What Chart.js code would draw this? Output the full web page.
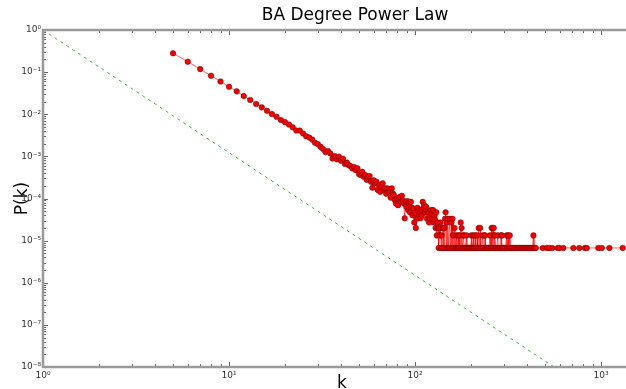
<!DOCTYPE html>
<html><head><meta charset="utf-8">
<script src="https://cdn.jsdelivr.net/npm/chart.js@4/dist/chart.umd.min.js"></script>
<style>html,body{margin:0;padding:0;background:#fff;overflow:hidden}</style>
</head><body>
<canvas id="c" width="710" height="389"></canvas>
<script>
const chartTitle = 'BA Degree Power Law';
const xTitle = 'k';
const yTitle = 'P(k)';

const degreeK = [
  5,6,7,8,9,10,11,12,13,14,15,16,17,18,19,20,21,22,23,24,25,26,27,28,29,30,
  31,32,33,34,35,36,37,38,39,40,41,42,43,44,45,46,47,48,49,50,
  51,52,53,54,55,56,57,58,59,60,61,62,63,64,65,66,67,68,69,70,
  71,72,73,74,75,76,77,78,79,80,81,82,83,84,85,86,87,88,89,90,
  91,92,93,94,95,96,97,98,99,100,101,102,103,104,105,106,107,108,109,110,
  111,112,113,114,115,116,117,118,119,120,121,122,123,124,125,126,127,128,129,130,
  131,132,133,134,135,136,137,138,139,140,141,142,143,144,145,146,147,148,149,150,
  151,152,154,155,157,158,159,160,161,163,164,165,167,168,170,171,172,173,174,176,
  177,178,180,181,182,183,184,186,187,189,190,192,194,195,197,199,201,202,204,206,
  207,209,211,212,214,216,217,220,221,224,225,228,231,232,235,236,238,239,242,245,
  248,250,253,254,256,258,259,262,263,265,266,268,269,271,275,279,280,284,288,290,
  291,293,294,298,302,306,311,312,317,318,323,324,328,333,338,343,348,353,358,363,
  368,374,380,386,392,398,404,410,416,422,428,433,436,440,446,
  486,511,527,547,585,597,627,710,764,820,838,967,1009,1109,1308
];
const degreeP = [
  0.28,0.177,0.118,0.082,0.060,0.045,0.035,0.027,0.0218,0.0175,0.0146,0.0121,0.0101,0.0087,0.0073,0.0065,0.0057,0.0049,0.0041,0.0041,0.0035,0.0030,0.0028,0.0025,0.0021,0.00196,
  0.0017,0.0015,0.00127,0.00134,0.00118,0.00089,0.00102,0.00085,0.00098,0.00079,0.00088,0.00066,0.00071,0.00062,0.00059,0.00052,0.00056,0.00047,0.00052,0.00038,
  0.00036,0.00043,0.00033,0.00036,0.00028,0.0003,0.00034,0.00025,0.00018,0.00027,0.00023,0.00025,0.00016,0.00021,0.000144,0.00019,0.00023,0.00016,0.000174,0.00013,
  0.000174,0.000144,0.000158,0.000105,0.000174,0.000132,0.00012,0.000091,0.000076,0.0001,0.000069,0.000095,0.00011,0.000083,0.000116,0.00009,0.000076,0.000034,0.00008,0.000063,
  0.000087,0.000053,0.000076,0.000047,0.000083,0.00006,0.00004,0.000058,0.000027,0.000045,0.00002,0.000033,0.00006,0.000053,0.00004,0.000047,0.000034,0.000053,0.00004,0.000083,
  0.00006,0.000069,0.000047,0.000053,0.000063,0.000033,0.000047,0.000045,0.000027,0.000034,0.00004,0.000053,0.000045,0.000033,0.000053,0.000027,0.00004,0.000031,0.00002,0.000047,
  0.0000133,0.000027,0.00002,0.0000067,0.00002,0.0000133,0.000027,0.0000067,0.0000133,0.0000067,0.00002,0.00002,0.0000067,0.00002,0.000033,0.000047,0.0000067,0.000027,0.0000067,0.000033,
  0.0000067,0.0000067,0.000033,0.0000067,0.000027,0.0000067,0.000033,0.0000133,0.0000067,0.00002,0.0000067,0.0000067,0.0000133,0.0000067,0.0000067,0.0000133,0.0000067,0.0000133,0.0000067,0.000027,
  0.0000067,0.00002,0.0000067,0.0000067,0.0000133,0.0000133,0.0000067,0.0000067,0.0000067,0.0000133,0.0000067,0.0000067,0.0000067,0.0000067,0.0000067,0.0000067,0.0000133,0.0000067,0.0000067,0.0000133,
  0.0000067,0.0000067,0.0000133,0.0000067,0.0000067,0.0000133,0.0000067,0.00002,0.0000067,0.00002,0.0000067,0.0000067,0.0000133,0.0000067,0.0000067,0.0000133,0.0000133,0.0000067,0.0000067,0.0000067,
  0.0000067,0.0000067,0.0000133,0.0000067,0.0000067,0.00002,0.0000067,0.00002,0.0000067,0.00002,0.0000133,0.0000067,0.0000133,0.0000067,0.0000067,0.0000133,0.0000067,0.0000067,0.0000067,0.0000133,
  0.0000067,0.0000133,0.0000067,0.0000067,0.0000067,0.0000067,0.0000133,0.0000067,0.0000133,0.0000067,0.0000133,0.0000067,0.0000067,0.0000067,0.0000067,0.0000067,0.0000067,0.0000067,0.0000067,0.0000067,
  0.0000067,0.0000067,0.0000067,0.0000067,0.0000067,0.0000067,0.0000067,0.0000067,0.0000067,0.0000067,0.0000067,0.0000133,0.0000067,0.0000067,0.0000067,
  0.0000067,0.0000067,0.0000067,0.0000067,0.0000067,0.0000067,0.0000067,0.0000067,0.0000067,0.0000067,0.0000067,0.0000067,0.0000067,0.0000067,0.0000067
];

const fitK = [1, 559];
const fitP = [1, 1e-8];

const xTicks = [1, 10, 100, 1000];
const xTickLabels = ['10\u2070', '10\u00B9', '10\u00B2', '10\u00B3'];
const yTicks = [1, 1e-1, 1e-2, 1e-3, 1e-4, 1e-5, 1e-6, 1e-7, 1e-8];
const yTickLabels = ['10\u2070', '10\u207B\u00B9', '10\u207B\u00B2', '10\u207B\u00B3', '10\u207B\u2074',
                     '10\u207B\u2075', '10\u207B\u2076', '10\u207B\u2077', '10\u207B\u2078'];

const degreeData = degreeK.map((k, i) => ({x: k, y: degreeP[i]}));
const fitData = fitK.map((k, i) => ({x: k, y: fitP[i]}));

function labelFor(ticks, labels, v) {
  for (let i = 0; i < ticks.length; i++) {
    if (Math.abs(Math.log10(v) - Math.log10(ticks[i])) < 1e-6) return labels[i];
  }
  return '';
}

const frame = {
  id: 'frame',
  afterLayout(chart) {
    // centre the title on the whole (wider) figure, like the original
    const t = chart.titleBlock;
    if (t) { t.left = 0; t.right = chart.width; t.width = chart.width; }
  },
  afterDraw(chart) {
    const {ctx, chartArea: a, scales: {x, y}} = chart;
    ctx.save();
    ctx.strokeStyle = '#666';
    ctx.lineWidth = 1;
    ctx.beginPath();
    for (let d = 0; d < xTicks.length; d++) {
      for (let m = 1; m <= 9; m++) {
        const v = xTicks[d] * m;
        if (v > x.max) break;
        const px = Math.round(x.getPixelForValue(v)) + 0.5;
        const len = m === 1 ? 5 : 3;
        ctx.moveTo(px, a.bottom); ctx.lineTo(px, a.bottom - len);
        ctx.moveTo(px, a.top); ctx.lineTo(px, a.top + len);
      }
    }
    for (let d = 0; d < yTicks.length; d++) {
      for (let m = 1; m <= 9; m++) {
        const v = yTicks[d] * m;
        if (v > y.max * 1.0001) break;
        const py = Math.round(y.getPixelForValue(v)) + 0.5;
        const len = m === 1 ? 5 : 3;
        ctx.moveTo(a.left, py); ctx.lineTo(a.left + len, py);
        ctx.moveTo(a.right, py); ctx.lineTo(a.right - len, py);
      }
    }
    ctx.stroke();
    ctx.strokeStyle = '#999';
    ctx.lineWidth = 2.5;
    ctx.strokeRect(a.left, a.top, a.right - a.left, a.bottom - a.top);
    ctx.restore();
  }
};

new Chart(document.getElementById('c'), {
  type: 'scatter',
  data: {
    datasets: [
      {
        data: fitData,
        showLine: true,
        borderColor: 'rgb(70,175,70)',
        borderWidth: 1,
        borderDash: [3, 4],
        pointRadius: 0,
        order: 2
      },
      {
        data: degreeData,
        showLine: true,
        borderColor: 'rgba(255,0,0,0.6)',
        borderWidth: 1,
        pointRadius: 2.8,
        pointBackgroundColor: '#ee0000',
        pointBorderColor: 'rgba(90,0,0,0.75)',
        pointBorderWidth: 0.6,
        order: 1
      }
    ]
  },
  options: {
    responsive: false,
    animation: false,
    devicePixelRatio: 1,
    layout: {padding: {left: 0, right: 69, top: 0, bottom: 0}},
    plugins: {
      legend: {display: false},
      tooltip: {enabled: false},
      title: {
        display: true,
        text: chartTitle,
        color: '#000',
        fullSize: true,
        font: {family: 'DejaVu Sans', size: 17, weight: 'normal'},
        padding: {top: 5, bottom: 4.6}
      }
    },
    scales: {
      x: {
        type: 'logarithmic',
        min: 1, max: 1640,
        grid: {display: false, drawTicks: false},
        border: {display: false},
        afterBuildTicks: s => { s.ticks = xTicks.map(v => ({value: v})); },
        afterFit: s => { s.height = 22; },
        ticks: {
          autoSkip: false, maxRotation: 0, padding: 3,
          color: '#333', font: {family: 'DejaVu Sans', size: 9},
          callback: v => labelFor(xTicks, xTickLabels, v)
        },
        title: {display: true, text: xTitle, color: '#000',
                font: {family: 'DejaVu Sans', size: 17}, padding: {top: 0, bottom: -5}}
      },
      y: {
        type: 'logarithmic',
        min: 1e-8, max: 1,
        grid: {display: false, drawTicks: false},
        border: {display: false},
        afterBuildTicks: s => { s.ticks = yTicks.map(v => ({value: v})); },
        afterFit: s => { s.width = 43; },
        ticks: {
          autoSkip: false, padding: 2,
          color: '#333', font: {family: 'DejaVu Sans', size: 9},
          callback: v => labelFor(yTicks, yTickLabels, v)
        },
        title: {display: true, text: yTitle, color: '#000',
                font: {family: 'DejaVu Sans', size: 17}, padding: {top: 12, bottom: 0}}
      }
    }
  },
  plugins: [frame]
});
</script>
</body></html>
